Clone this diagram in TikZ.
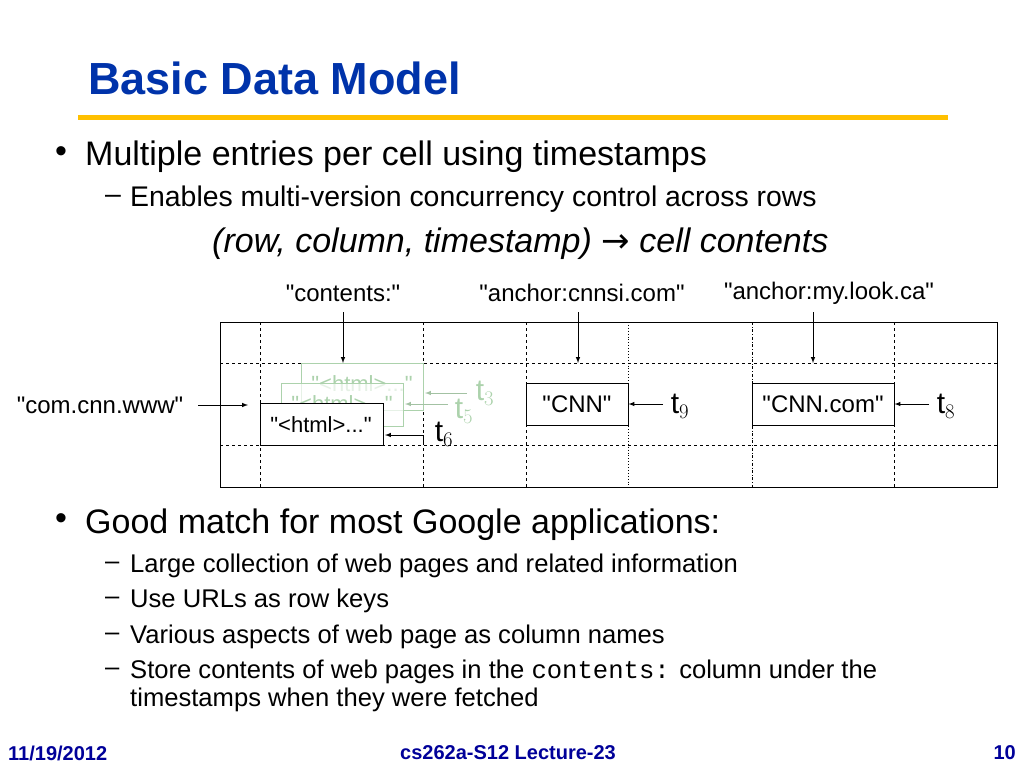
\documentclass[tikz,border=0pt]{standalone}
\usepackage{fontspec}
\setmainfont{Liberation Sans}
\setmonofont{Liberation Mono}
\newfontfamily\djv{DejaVu Sans}
\newcommand{\qq}{\textquotedbl}
\begin{document}
\begin{tikzpicture}[x=1pt,y=-1pt,
 lvlone/.style={anchor=west,font=\fontsize{34}{38}\selectfont,inner sep=0},
 lvltwo/.style={anchor=west,font=\fontsize{28.4}{31}\selectfont,inner sep=0},
 lvltwob/.style={anchor=west,font=\fontsize{25.6}{29}\selectfont,inner sep=0},
 lab/.style={font=\fontsize{24}{27}\selectfont,inner sep=1pt},
 ts/.style={font=\fontsize{24}{27}\selectfont,inner sep=0},
 hs/.style={font=\fontsize{22}{24}\selectfont,inner sep=0},
 tsub/.style={font=\fontsize{30}{30}\selectfont,inner sep=0},
 arr/.style={-latex,line width=1pt},
 garr/.style={-latex,line width=1pt,draw=gray!80!green!60},
 foot/.style={font=\bfseries\fontsize{20}{22}\selectfont,text=blue!60!black,inner sep=0}]
\useasboundingbox (0,0) rectangle (1024,768);
\node[anchor=west,font=\bfseries\fontsize{45}{50}\selectfont,text={rgb,255:red,0;green,51;blue,170},inner sep=0] (title) at (88,78) {Basic Data Model};
\draw[line width=5pt,draw={rgb,255:red,255;green,192;blue,0}] (78,117) -- (948,117);
\node[lvlone] (b1d) at (55,155) {•};
\node[lvlone] (b1) at (85,157) {Multiple entries per cell using timestamps};
\node[lvltwo] (s1) at (105,199) {–};
\node[lvltwo] (s1t) at (130,199) {Enables multi-version concurrency control across rows};
\node[anchor=west,font=\itshape\fontsize{34}{38}\selectfont,inner sep=0] (f) at (212,244) {(row, column, timestamp) {\djv\upshape →} cell contents};
% table
\draw[line width=1pt] (220,322) rectangle (997,487);
\draw[dashed,line width=0.9pt] (220,363) -- (997,363) (220,445) -- (997,445);
\draw[dashed,line width=0.9pt] (260,322) -- (260,487) (423,322) -- (423,487) (526,322) -- (526,487) (894,322) -- (894,487);
\draw[dotted,line width=0.9pt] (628,322) -- (628,487);
\draw[dash dot,line width=0.9pt] (752,322) -- (752,487);
\node[lab] (c1) at (343,293) {\qq contents:\qq};
\node[lab] (c2) at (582,293) {\qq anchor:cnnsi.com\qq};
\node[lab] (c3) at (829,293) {\qq anchor:my.look.ca\qq};
\coordinate (c1e) at (343,363);\coordinate (c2e) at (578,363);\coordinate (c3e) at (813,363);
\draw[arr] (343,312) -- (c1e);
\draw[arr] (578,312) -- (c2e);
\draw[arr] (813,312) -- (c3e);
\node[lab] (row) at (100,405) {\qq com.cnn.www\qq};
\coordinate (rowe) at (248,405);
\draw[arr] (198,405) -- (rowe);
% html versions
\draw[line width=1pt,draw=gray!70!green!50,fill=white] (301,363) rectangle (423,410);
\node[hs,text=gray!70!green!50] (h3) at (362,384) {\qq<html>...\qq};
\draw[line width=1pt,draw=gray!70!green!50,fill=white,fill opacity=0.7] (281,383) rectangle (403,426);
\node[hs,text=gray!70!green!50] (h5) at (342,404) {\qq<html>...\qq};
\draw[line width=1pt,fill=white] (260,403) rectangle (383,445);
\node[hs] (h6) at (321,425) {\qq<html>...\qq};
\draw[line width=1pt] (423,435) -- (423,445);
\node[tsub,text=gray!70!green!50] (t3) at (485,393) {t$_3$};
\node[tsub,text=gray!70!green!50] (t5) at (464,411) {t$_5$};
\node[tsub] (t6) at (444,434) {t$_6$};
\draw[garr] (467,393) -- (425,393);
\draw[garr] (448,404) -- (405,404);
\draw[arr] (423,435) -- (385,435);
% CNN boxes
\node[draw,line width=1pt,minimum width=102pt,minimum height=42pt,ts] (cnn) at (577,404) {\qq CNN\qq};
\node[draw,line width=1pt,minimum width=142pt,minimum height=42pt,ts] (cnnc) at (823,404) {\qq CNN.com\qq};
\node[tsub] (t9) at (680,406) {t$_9$};
\node[tsub] (t8) at (946,406) {t$_8$};
\draw[arr] (663,404) -- (cnn.east);
\draw[arr] (929,404) -- (cnnc.east);
% bottom bullets
\node[lvlone] (b2d) at (55,522) {•};
\node[lvlone] (b2) at (85,525) {Good match for most Google applications:};
\node[lvltwob] (d1) at (105,566) {–};\node[lvltwob] (e1) at (130,566) {Large collection of web pages and related information};
\node[lvltwob] (d2) at (105,601) {–};\node[lvltwob] (e2) at (130,601) {Use URLs as row keys};
\node[lvltwob] (d3) at (105,637) {–};\node[lvltwob] (e3) at (130,637) {Various aspects of web page as column names};
\node[lvltwob] (d4) at (105,672) {–};\node[lvltwob] (e4) at (130,672) {Store contents of web pages in the \texttt{contents:} column under the};
\node[lvltwob] (e5) at (130,700) {timestamps when they were fetched};
\node[foot,anchor=west] (fl) at (8,753) {11/19/2012};
\node[foot] (fc) at (508,753) {cs262a-S12 Lecture-23};
\node[foot,anchor=east] (fr) at (1016,753) {10};
\end{tikzpicture}
\end{document}
